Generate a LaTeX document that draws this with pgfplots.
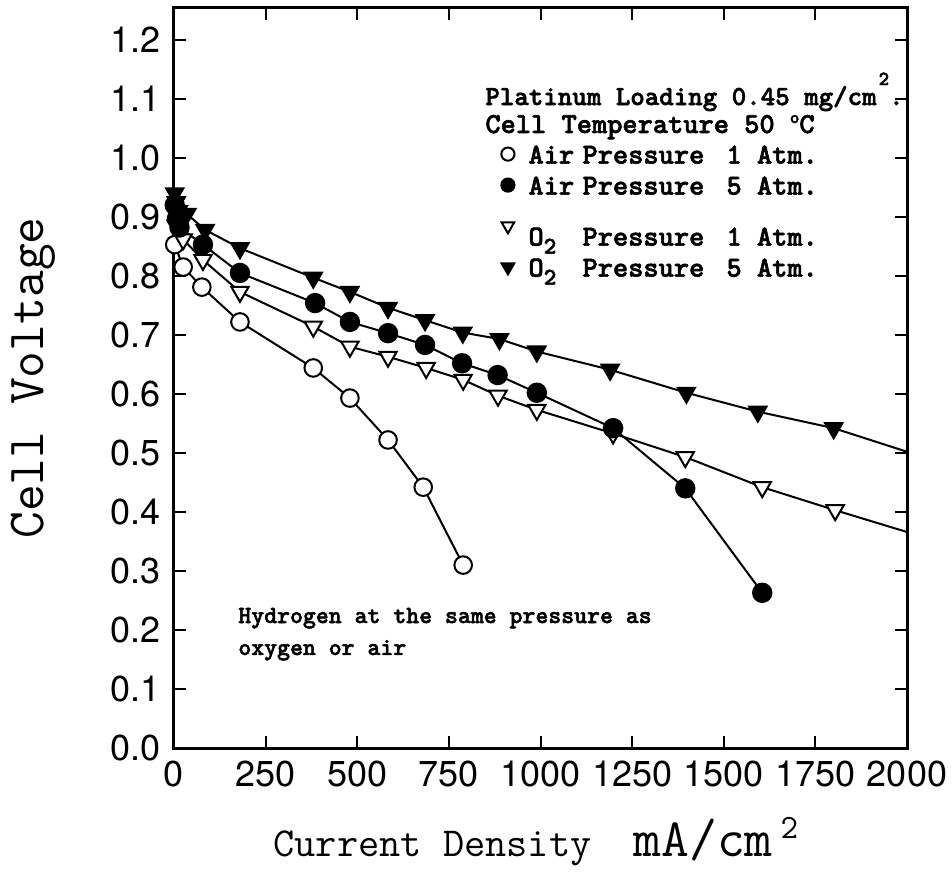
\documentclass[border=0pt]{standalone}
\usepackage{fontspec}
\setmainfont{TeX Gyre Heros}
\newfontfamily\notefont{lmmonolt10-bold.otf}[FakeBold=2]
\usepackage{pgfplots}
\pgfplotsset{compat=1.18}

\newcommand{\ent}[3]{\makebox[27pt][l]{#1}\makebox[72pt][l]{#2}#3}
\newcommand{\rs}[1]{\rule[-5pt]{0pt}{#1}}
\newcommand{\Otwo}{O\raisebox{-4pt}{\fontsize{12}{12}\selectfont 2}}

\begin{document}
\begin{tikzpicture}
\useasboundingbox (-87pt,-62.5pt) rectangle (389pt,374pt);
\begin{axis}[
    scale only axis,
    width=366.5pt, height=370pt,
    xmin=0, xmax=2000,
    ymin=0, ymax=1.254,
    xtick={0,250,...,2000},
    ytick={0,0.1,...,1.2},
    clip=false,
    axis line style={line width=1.5pt},
    every tick/.style={black, line width=1pt},
    major tick length=6pt,
    tick align=inside,
    /pgf/number format/assume math mode=true,
    /pgf/number format/1000 sep={},
    yticklabel style={/pgf/number format/fixed, /pgf/number format/fixed zerofill,
        /pgf/number format/precision=1, xshift=-3pt},
    tick label style={font=\fontsize{18}{18}\selectfont},
    xticklabel style={yshift=-3pt},
    xlabel={{\fontsize{20.6}{20.6}\selectfont Current Density}\hspace{21pt}{\fontsize{27}{27}\selectfont mA/cm}\hspace{4pt}\raisebox{9pt}{\fontsize{17}{17}\selectfont 2}},
    xlabel style={font=\ttfamily, at={(axis description cs:0.135,-0.146)}, anchor=base west, inner sep=0pt},
    ylabel={Cell Voltage},
    ylabel style={font=\ttfamily\fontsize{26}{26}\selectfont, at={(axis description cs:-0.1787,0.5)}, anchor=base, inner sep=0pt},
    every axis plot/.append style={black, line width=1pt, mark options={solid, line width=1pt}},
    legend style={at={(axis description cs:0.446,0.82)}, anchor=north west, draw=none, fill=none,
        inner sep=0pt, column sep=7pt, row sep=3pt,
        nodes={inner sep=0pt, font=\notefont\fontsize{14.5}{14.5}\selectfont}},
    legend cell align=left,
]
% Air, 1 atm
\addplot[forget plot, mark=*, mark size=4.4pt, mark options={fill=white}] coordinates {
    (2,0.853) (25,0.815) (76,0.781) (180,0.722) (380,0.644) (480,0.593)
    (584,0.522) (680,0.442) (789,0.310)
};
% O2, 1 atm
\addplot[forget plot, mark=triangle*, mark size=5pt, mark options={rotate=180, fill=white}] coordinates {
    (6,0.885) (25,0.862) (79,0.827) (180,0.773) (380,0.714) (480,0.680)
    (584,0.663) (688,0.644) (789,0.624) (884,0.597) (990,0.573) (1198,0.533)
    (1395,0.493) (1605,0.442) (1804,0.403)
};
\addplot[forget plot] coordinates {(1804,0.403) (2000,0.366)};
% Air, 5 atm
\addplot[forget plot, mark=*, mark size=4.6pt] coordinates {
    (2,0.920) (8,0.897) (15,0.882) (79,0.853) (180,0.805) (385,0.754)
    (480,0.722) (584,0.703) (685,0.683) (786,0.652) (883,0.632) (990,0.602)
    (1198,0.542) (1395,0.440) (1605,0.263)
};
% O2, 5 atm
\addplot[forget plot, mark=triangle*, mark size=5pt, mark options={rotate=180}] coordinates {
    (2,0.940) (6,0.925) (12,0.910) (35,0.905) (85,0.878) (180,0.847)
    (380,0.797) (480,0.773) (584,0.746) (685,0.725) (788,0.704) (888,0.693)
    (990,0.672) (1190,0.641) (1398,0.602) (1593,0.570) (1800,0.542)
};
\addplot[forget plot] coordinates {(1800,0.542) (2000,0.502)};

\addlegendimage{only marks, mark=*, mark size=3.3pt, mark options={fill=white}}
\addlegendentry{\rs{16pt}\ent{Air}{Pressure}{1 Atm.}}
\addlegendimage{only marks, mark=*, mark size=3.3pt}
\addlegendentry{\rs{16pt}\ent{Air}{Pressure}{5 Atm.}}
\addlegendimage{only marks, mark=triangle*, mark size=3.6pt, mark options={rotate=180, fill=white}}
\addlegendentry{\rs{26pt}\ent{\Otwo}{Pressure}{1 Atm.}}
\addlegendimage{only marks, mark=triangle*, mark size=3.6pt, mark options={rotate=180}}
\addlegendentry{\rs{16pt}\ent{\Otwo}{Pressure}{5 Atm.}}

\node[anchor=base west, inner sep=0pt, font=\notefont\fontsize{13.8}{13.8}\selectfont]
    at (axis description cs:0.4243,0.8689)
    {Platinum Loading 0.45 mg/cm\hspace{1pt}\raisebox{10pt}{\fontsize{10}{10}\selectfont 2}.};
\node[anchor=base west, inner sep=0pt, font=\notefont\fontsize{14.5}{14.5}\selectfont]
    at (axis description cs:0.4243,0.8311)
    {Cell Temperature 50 \raisebox{5pt}{\fontsize{9}{9}\selectfont o}C};
\node[anchor=base west, inner sep=0pt, font=\notefont\fontsize{12.3}{12.3}\selectfont]
    at (axis description cs:0.0873,0.1689) {Hydrogen at the same pressure as};
\node[anchor=base west, inner sep=0pt, font=\notefont\fontsize{12.3}{12.3}\selectfont]
    at (axis description cs:0.0873,0.1257) {oxygen or air};
\end{axis}
\end{tikzpicture}
\end{document}
